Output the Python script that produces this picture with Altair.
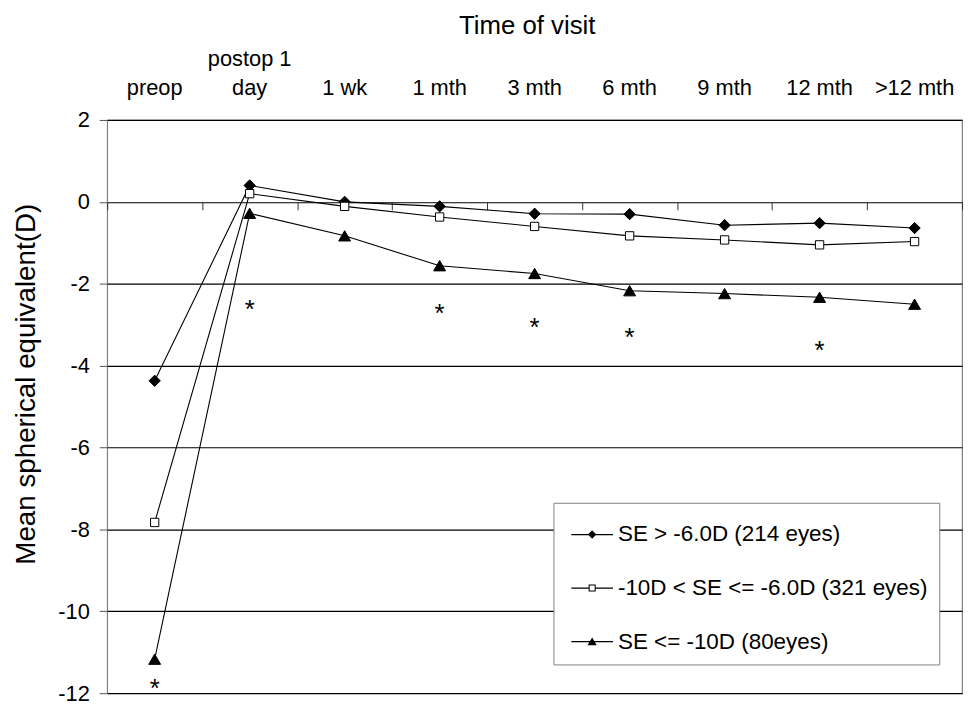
import altair as alt
import pandas as pd

visits = ["preop", "postop 1 day", "1 wk", "1 mth", "3 mth", "6 mth", "9 mth", "12 mth", ">12 mth"]
series_names = ["SE > -6.0D (214 eyes)", "-10D < SE <= -6.0D (321 eyes)", "SE <= -10D (80eyes)"]
se_low = [-4.37, 0.40, 0.0, -0.11, -0.29, -0.30, -0.57, -0.52, -0.64]
se_mid = [-7.83, 0.20, -0.11, -0.37, -0.60, -0.83, -0.93, -1.05, -0.97]
se_high = [-11.17, -0.28, -0.83, -1.56, -1.75, -2.17, -2.24, -2.33, -2.50]
star_visits = ["preop", "postop 1 day", "1 mth", "3 mth", "6 mth", "12 mth"]
star_values = [-11.75, -2.50, -2.60, -2.94, -3.18, -3.50]
y_ticks = [-12, -10, -8, -6, -4, -2, 0, 2]

marker_shapes = ["diamond", "square", "triangle-up"]
marker_fills = ["black", "white", "black"]
marker_sizes = [130, 70, 144]

rows = []
for name, vals in zip(series_names, [se_low, se_mid, se_high]):
    for v, val in zip(visits, vals):
        rows.append({"visit": v, "series": name, "se": val})
df = pd.DataFrame(rows)
stars = pd.DataFrame({"visit": star_visits, "se": star_values})

W, H = 862, 578
FONT = "Liberation Sans"

x_scale = alt.Scale(type="band", domain=visits, paddingInner=0, paddingOuter=0)
y_scale = alt.Scale(domain=[-12, 2], nice=False, zero=False)

x_top = alt.Axis(
    orient="top", title="Time of visit", domain=False, ticks=False, grid=False,
    labelAngle=0, labelFontSize=22, labelFont=FONT, labelColor="black",
    labelPadding=55, labelBaseline="alphabetic", labelLineHeight=29, labelOverlap=False,
    labelLimit=300,
    labelExpr="datum.label == 'postop 1 day' ? ['postop 1', 'day'] : ['', datum.label]",
    titleFontSize=26, titleFont=FONT, titleFontWeight="normal", titleColor="black",
    titleX=423, titleY=-87, titleBaseline="alphabetic", titleAlign="center",
)
x_bottom = alt.Axis(
    orient="bottom", title=None, labels=False, domain=False, ticks=True,
    tickSize=8, tickColor="#333333", tickBand="extent", grid=False,
    offset=-(12.0 / 14.0) * H,
)
y_axis = alt.Axis(
    values=y_ticks, labelExpr="'' + datum.value", grid=True,
    gridColor="#000000", gridWidth=1.2, domain=False, ticks=True, tickSize=8,
    tickColor="#555555",
    labelFontSize=22, labelFont=FONT, labelColor="black", labelPadding=10,
    title="Mean spherical equivalent(D)", titleFontSize=28, titleFont=FONT,
    titleFontWeight="normal", titleColor="black", titleAngle=270,
    titleX=-73, titleY=266, titleBaseline="alphabetic", titleAlign="center",
)

# every layer shares the same y axis definition (so the shared axis merges cleanly)
lines = alt.Chart(df).mark_line(color="black", strokeWidth=1.1).encode(
    x=alt.X("visit:N", scale=x_scale, axis=x_top, bandPosition=0.5),
    y=alt.Y("se:Q", scale=y_scale, axis=y_axis),
    detail="series:N",
)

point_layers = []
for i, name in enumerate(series_names):
    pl = alt.Chart(df).transform_filter(alt.datum.series == name).mark_point(
        filled=True, shape=marker_shapes[i], fill=marker_fills[i], size=marker_sizes[i],
        stroke="black", strokeWidth=1, opacity=1,
    ).encode(
        x=alt.X("visit:N", scale=x_scale, axis=(x_bottom if i == 0 else None), bandPosition=0.5),
        y=alt.Y("se:Q", scale=y_scale, axis=y_axis),
    )
    point_layers.append(pl)

star_layer = alt.Chart(stars).mark_text(
    text="*", fontSize=26, font=FONT, color="black", baseline="alphabetic", dy=14
).encode(
    x=alt.X("visit:N", scale=x_scale, axis=None, bandPosition=0.5),
    y=alt.Y("se:Q", scale=y_scale, axis=y_axis),
)

# legend symbols: line + marker drawn as filled outlines (unit = half symbol width)
legend_paths = [
    "M-1,-0.03H1V0.03H-1Z M0,-0.2L0.2,0L0,0.2L-0.2,0Z",
    "M-1,-0.03H-0.17V0.03H-1Z M0.17,-0.03H1V0.03H0.17Z "
    "M-0.17,-0.17H0.17V0.17H-0.17Z M-0.12,-0.12V0.12H0.12V-0.12Z",
    "M-1,-0.03H1V0.03H-1Z M0,-0.2L0.22,0.17L-0.22,0.17Z",
]
leg = alt.Legend(
    orient="none", legendX=450, legendY=386, title=None, padding=11,
    strokeColor="#808080", fillColor="white", symbolSize=1764,
    symbolStrokeWidth=0, symbolFillColor="black",
    labelFontSize=22.6, labelFont=FONT, labelColor="black", labelLimit=500,
    rowPadding=21, labelOffset=5, symbolOffset=7,
)
legend_layer = alt.Chart(df).transform_filter("false").mark_point(
    filled=True, color="black", opacity=1, size=1764
).encode(
    x=alt.X("visit:N", scale=x_scale, axis=None, bandPosition=0.5),
    y=alt.Y("se:Q", scale=y_scale, axis=y_axis),
    shape=alt.Shape("series:N", scale=alt.Scale(domain=series_names, range=legend_paths), legend=leg),
)

chart = alt.layer(lines, *point_layers, star_layer, legend_layer).resolve_axis(
    x="independent"
).properties(
    width=W, height=H,
    autosize=alt.AutoSizeParams(type="none"),
    padding={"left": 100, "top": 110, "right": 9, "bottom": 9},
    background="white",
).configure_view(stroke="#808080", strokeWidth=1.2)

chart.save("out.html", embed_options={"renderer": "svg", "actions": False})
